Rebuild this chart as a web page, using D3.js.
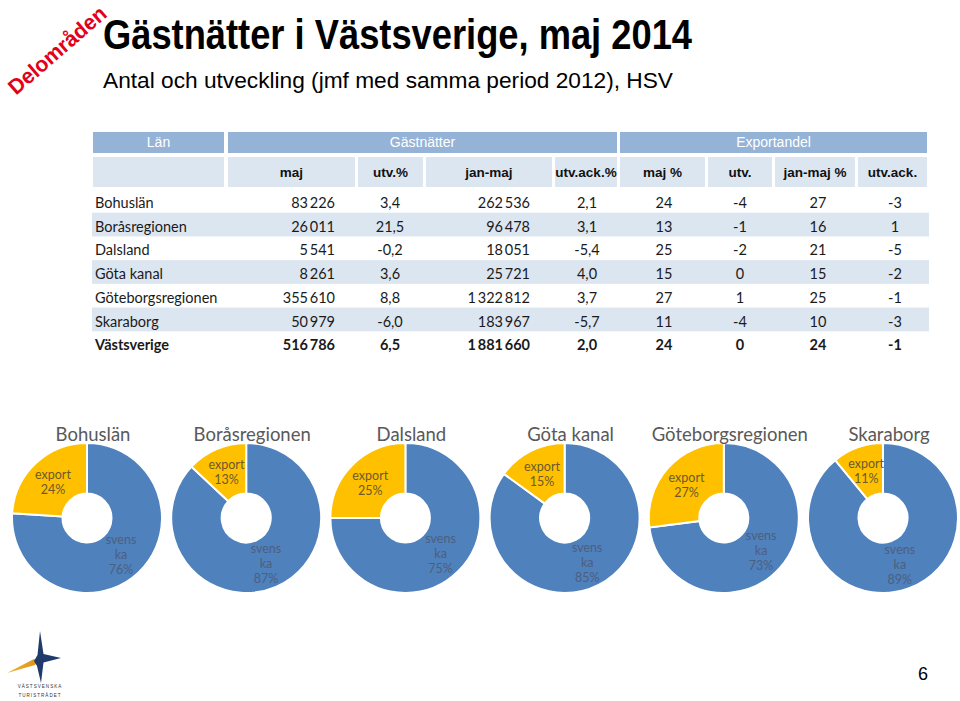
<!DOCTYPE html>
<html><head><meta charset="utf-8">
<script src="https://cdn.jsdelivr.net/npm/d3@7"></script>
<style>body{margin:0;background:#fff} svg{display:block}</style>
</head><body>
<svg id="c" width="960" height="701"></svg>
<script>
// ---------- DATA ----------
const regions = ["Bohuslän","Boråsregionen","Dalsland","Göta kanal","Göteborgsregionen","Skaraborg","Västsverige"];
const nightsMay = [83226, 26011, 5541, 8261, 355610, 50979, 516786];
const nightsMayChg = [3.4, 21.5, -0.2, 3.6, 8.8, -6.0, 6.5];
const nightsJanMay = [262536, 96478, 18051, 25721, 1322812, 183967, 1881660];
const nightsJanMayChg = [2.1, 3.1, -5.4, 4.0, 3.7, -5.7, 2.0];
const exportMay = [24, 13, 25, 15, 27, 11, 24];
const exportMayChg = [-4, -1, -2, 0, 1, -4, 0];
const exportJanMay = [27, 16, 21, 15, 25, 10, 24];
const exportJanMayChg = [-3, 1, -5, -2, -1, -3, -1];
const headerGroups = ["Län", "Gästnätter", "Exportandel"];
const headerCols = ["", "maj", "utv.%", "jan-maj", "utv.ack.%", "maj %", "utv.", "jan-maj %", "utv.ack."];
const donutRegions = regions.slice(0, 6);
const sliceNames = ["svenska", "export"];

// ---------- SETUP ----------
const svg = d3.select("#c");
const loc = d3.formatLocale({decimal: ",", thousands: "\u2009", grouping: [3], currency: ["", ""], minus: "-"});
const fInt = loc.format(",d");
const f1 = loc.format(".1f");
const fI = loc.format("d");

// Delområden ribbon text
svg.append("text")
  .attr("transform", "translate(57,50) rotate(-41)")
  .attr("text-anchor", "middle").attr("dy", "0.36em")
  .attr("font-family", "Liberation Sans, Arial, sans-serif").attr("font-weight", "bold")
  .attr("font-size", 21.5).attr("fill", "#E2001A")
  .attr("textLength", 122).attr("lengthAdjust", "spacingAndGlyphs")
  .text("Delområden");

// Title
svg.append("text").attr("x", 103).attr("y", 49)
  .attr("font-family", "Liberation Sans, Arial, sans-serif").attr("font-weight", "bold")
  .attr("font-size", 42).attr("fill", "#000")
  .attr("textLength", 589).attr("lengthAdjust", "spacingAndGlyphs")
  .text("Gästnätter i Västsverige, maj 2014");
svg.append("text").attr("x", 103).attr("y", 87.5)
  .attr("font-family", "Liberation Sans, Arial, sans-serif")
  .attr("font-size", 22.5).attr("fill", "#000")
  .attr("textLength", 570).attr("lengthAdjust", "spacingAndGlyphs")
  .text("Antal och utveckling (jmf med samma period 2012), HSV");

// ---------- TABLE ----------
const colEdges = [[93,224],[228,355],[358,423],[426,552],[555,617],[620,705],[708,772],[775,855],[858,927]];
const groupEdges = [[93,224],[228,617],[620,927]];
const g1 = svg.append("g");
headerGroups.forEach((h, i) => {
  const [a, b] = groupEdges[i];
  g1.append("rect").attr("x", a).attr("y", 132).attr("width", b - a).attr("height", 21).attr("fill", "#95B3D7");
  g1.append("text").attr("x", (a + b) / 2).attr("y", 147).attr("text-anchor", "middle")
    .attr("font-family", "Liberation Sans, Arial, sans-serif").attr("font-size", 14).attr("fill", "#fff").text(h);
});
headerCols.forEach((h, i) => {
  const [a, b] = colEdges[i];
  g1.append("rect").attr("x", a).attr("y", 157).attr("width", b - a).attr("height", 30).attr("fill", "#DCE6F1");
  g1.append("text").attr("x", (a + b) / 2).attr("y", 176.5).attr("text-anchor", "middle")
    .attr("font-family", "Liberation Sans, Arial, sans-serif").attr("font-weight", "bold")
    .attr("font-size", 13.5).attr("fill", "#111").text(h);
});

const y = d3.scaleBand().domain(regions).range([189, 355]);
const body = svg.append("g");
body.selectAll("rect.band").data(regions.filter((d, i) => i % 2 === 1)).join("rect")
  .attr("class", "band").attr("x", 92).attr("width", 837)
  .attr("y", d => y(d)).attr("height", y.bandwidth()).attr("fill", "#DCE6F1");

const cols = [
  {vals: regions, x: 95, anchor: "start", fmt: d => d},
  {vals: nightsMay, x: 335, anchor: "end", fmt: fInt},
  {vals: nightsMayChg, x: 390, anchor: "middle", fmt: f1},
  {vals: nightsJanMay, x: 530, anchor: "end", fmt: fInt},
  {vals: nightsJanMayChg, x: 587, anchor: "middle", fmt: f1},
  {vals: exportMay, x: 664, anchor: "middle", fmt: fI},
  {vals: exportMayChg, x: 740, anchor: "middle", fmt: fI},
  {vals: exportJanMay, x: 818, anchor: "middle", fmt: fI},
  {vals: exportJanMayChg, x: 895, anchor: "middle", fmt: fI}
];
cols.forEach(c => {
  body.selectAll(null).data(c.vals).join("text")
    .attr("x", c.x).attr("y", (d, i) => y(regions[i]) + 19)
    .attr("text-anchor", c.anchor)
    .attr("font-family", "Lato, sans-serif").attr("font-size", 14.5)
    .attr("font-weight", (d, i) => i === regions.length - 1 ? "bold" : "normal")
    .attr("fill", "#1a1a1a")
    .text(c.fmt);
});

// ---------- DONUTS ----------
const cx = d3.scalePoint().domain(donutRegions).range([87, 883]);
const cy = 518;
const pie = d3.pie().sort(null).value(d => d.value);
const arc = d3.arc().innerRadius(24.5).outerRadius(75);
const color = d3.scaleOrdinal().domain(sliceNames).range(["#4F81BD", "#FFC000"]);
const labelColor = d3.scaleOrdinal().domain(sliceNames).range(["#4D5F7E", "#6A5A2E"]);

donutRegions.forEach((r, i) => {
  const e = exportMay[i];
  const data = [{name: "svenska", value: 100 - e}, {name: "export", value: e}];
  const g = svg.append("g").attr("transform", `translate(${cx(r)},${cy})`);
  svg.append("text").attr("x", cx(r) + 6).attr("y", 441).attr("text-anchor", "middle")
    .attr("font-family", "Lato, sans-serif").attr("font-size", 18.5).attr("fill", "#595959").text(r);
  const arcs = pie(data);
  g.selectAll("path").data(arcs).join("path")
    .attr("d", arc).attr("fill", d => color(d.data.name))
    .attr("stroke", "#fff").attr("stroke-width", 2);
  arcs.forEach(a => {
    const [px, py] = arc.centroid(a);
    const lines = a.data.name === "export" ? ["export", a.data.value + "%"] : ["svens", "ka", a.data.value + "%"];
    const n = lines.length;
    lines.forEach((t, k) => {
      g.append("text").attr("x", px).attr("y", py + (k - (n - 1) / 2) * 15 + 4.5)
        .attr("text-anchor", "middle").attr("font-family", "Lato, sans-serif").attr("font-size", 12.5)
        .attr("fill", labelColor(a.data.name)).text(t);
    });
  });
});

// ---------- LOGO ----------
const defs = svg.append("defs");
const lg = defs.append("linearGradient").attr("id", "gold").attr("x1", "0").attr("x2", "1").attr("y1", "0").attr("y2", "0");
lg.append("stop").attr("offset", "0").attr("stop-color", "#F2B233");
lg.append("stop").attr("offset", "1").attr("stop-color", "#D9951A");
const logo = svg.append("g");
logo.append("path").attr("d", "M7,673 L34,659 L38,661 L35,665 Z").attr("fill", "url(#gold)");
logo.append("path").attr("d", "M40,631 L43.5,654 L61,658 L43.5,662.5 L41,683 L37,666 L34,661 L37.5,655 Z").attr("fill", "#1F3A6B");
logo.append("text").attr("x", 40).attr("y", 688).attr("text-anchor", "middle")
  .attr("font-family", "Liberation Sans, Arial, sans-serif").attr("font-size", 4.6).attr("letter-spacing", 1)
  .attr("fill", "#333").text("VÄSTSVENSKA");
logo.append("text").attr("x", 40).attr("y", 697).attr("text-anchor", "middle")
  .attr("font-family", "Liberation Sans, Arial, sans-serif").attr("font-size", 4.6).attr("letter-spacing", 1)
  .attr("fill", "#333").text("TURISTRÅDET");

// Page number
svg.append("text").attr("x", 923).attr("y", 680).attr("text-anchor", "middle")
  .attr("font-family", "Liberation Sans, Arial, sans-serif").attr("font-size", 18).attr("fill", "#000").text("6");
</script>
</body></html>
